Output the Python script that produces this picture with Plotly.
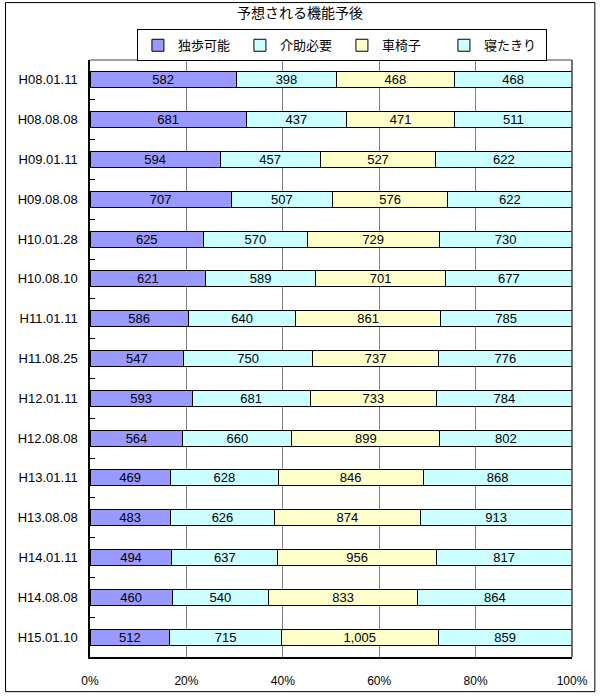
import plotly.graph_objects as go

categories = ["H08.01.11", "H08.08.08", "H09.01.11", "H09.08.08", "H10.01.28",
              "H10.08.10", "H11.01.11", "H11.08.25", "H12.01.11", "H12.08.08",
              "H13.01.11", "H13.08.08", "H14.01.11", "H14.08.08", "H15.01.10"]
independent = [582, 681, 594, 707, 625, 621, 586, 547, 593, 564, 469, 483, 494, 460, 512]
assisted = [398, 437, 457, 507, 570, 589, 640, 750, 681, 660, 628, 626, 637, 540, 715]
wheelchair = [468, 471, 527, 576, 729, 701, 861, 737, 733, 899, 846, 874, 956, 833, 1005]
bedridden = [468, 511, 622, 622, 730, 677, 785, 776, 784, 802, 868, 913, 817, 864, 859]

series_names = ["独歩可能", "介助必要", "車椅子", "寝たきり"]
series_values = [independent, assisted, wheelchair, bedridden]
colors = ["#9999FF", "#CCFFFF", "#FFFFCC", "#CCFFFF"]

FONT = "Liberation Sans, Arial, Noto Sans CJK JP, sans-serif"

fig = go.Figure()
for name, vals, col in zip(series_names, series_values, colors):
    fig.add_trace(go.Bar(
        y=categories, x=vals, name=name, orientation="h",
        marker=dict(color=col, line=dict(color="#000000", width=1)),
        text=vals, texttemplate="%{text:,}", textposition="inside",
        insidetextanchor="middle", textangle=0,
        textfont=dict(color="#000000", size=13, family=FONT),
        hoverinfo="skip",
    ))

# plot area geometry (px)
L, R, T, B = 90, 575, 60, 663
W, H = 600, 700
pw, ph = R - L, B - T

def px_x(x):
    return (x - L) / pw

def px_y(y):
    return (B - y) / ph

fig.update_layout(
    width=W, height=H,
    margin=dict(l=L, r=W - R, t=T, b=H - B, pad=0),
    barmode="stack", barnorm="percent", bargap=0.6,
    uniformtext=dict(minsize=13, mode="show"),
    paper_bgcolor="white", plot_bgcolor="white",
    font=dict(family=FONT, size=12, color="#000000"),
    title=dict(text="予想される機能予後", x=0.5, xanchor="center",
               y=1 - 13 / H, yanchor="middle", yref="container",
               font=dict(size=14, family=FONT, color="#000000")),
    legend=dict(orientation="h", x=px_x(343.5), xanchor="center",
                y=px_y(29), yanchor="top",
                bordercolor="#000000", borderwidth=1,
                font=dict(size=13, family=FONT),
                itemwidth=30, entrywidth=57, traceorder="normal",
                tracegroupgap=0),
    showlegend=True,
    xaxis=dict(range=[0, 100], dtick=20, ticksuffix="%", showgrid=True,
               gridcolor="#808080", gridwidth=1, zeroline=False,
               showline=True, linecolor="#000000", linewidth=1.5,
               ticks="", ticklabelstandoff=12,
               tickfont=dict(size=12, family=FONT)),
    yaxis=dict(autorange="reversed", type="category", showgrid=False,
               showline=True, linecolor="#000000", linewidth=1.5,
               ticks="inside", tickson="boundaries", ticklen=5,
               tickcolor="#000000", ticklabelstandoff=8,
               tickfont=dict(size=13, family=FONT)),
    shapes=[
        # plot-area border (top/right)
        dict(type="line", xref="paper", yref="paper", x0=0, x1=1, y0=1, y1=1,
             line=dict(color="#808080", width=1.5)),
        dict(type="line", xref="paper", yref="paper", x0=1, x1=1, y0=0, y1=1,
             line=dict(color="#404040", width=1.5)),
        # outer chart border
        dict(type="rect", xref="paper", yref="paper",
             x0=px_x(5), x1=px_x(598), y0=px_y(698), y1=px_y(2),
             line=dict(color="#000000", width=1)),
    ],
)

fig.write_html("out.html", config={"displayModeBar": False},
               post_script="document.body.style.margin='0';")
